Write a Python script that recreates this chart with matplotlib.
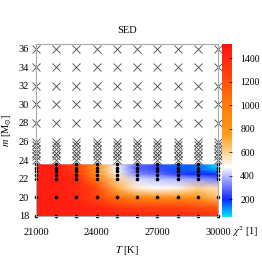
import numpy as np
import matplotlib
matplotlib.use("Agg")
import matplotlib.pyplot as plt
from matplotlib.colors import LinearSegmentedColormap

# effective temperature grid [K] and mass rows of the chi^2 map
temps = [21000, 22000, 23000, 24000, 25000, 26000, 27000, 28000, 29000, 30000]
mass_rows = [18, 19, 20, 21, 22, 22.5, 23, 23.5]
chi2 = [
    [1450, 1450, 1450, 1450, 1450, 1450, 1400, 1400, 1400, 1350],
    [1450, 1450, 1450, 1400, 1300, 1250, 1250, 1250, 1200, 1150],
    [1450, 1450, 1400, 1250, 1050, 900, 850, 850, 800, 650],
    [1450, 1450, 1400, 1250, 700, 520, 480, 500, 600, 550],
    [1450, 1450, 1400, 1000, 600, 430, 400, 380, 350, 300],
    [1450, 1450, 1350, 850, 520, 330, 300, 230, 200, 200],
    [1450, 1450, 1300, 800, 480, 280, 250, 170, 150, 100],
    [1450, 1450, 1300, 800, 450, 280, 250, 150, 150, 50],
]

# models that were fitted (dots) and not computed (crosses)
mass_fit = [18, 20, 22, 22.4, 22.8, 23.2, 23.6]
mass_nofit = [24.0, 24.4, 24.8, 25.2, 25.6, 26.0, 28, 30, 32, 34, 36]

plt.rcParams['font.family'] = ['Liberation Serif', 'DejaVu Serif']
plt.rcParams['mathtext.fontset'] = 'stix'
plt.rcParams['font.size'] = 7.5

cmap = LinearSegmentedColormap.from_list("chi", [
    (0.0, "#00e8ff"),
    (0.10, "#1028ff"),
    (0.20, "#8c94ff"),
    (0.29, "#ffffff"),
    (0.36, "#ffd8a0"),
    (0.48, "#ff9a18"),
    (0.65, "#ff7c08"),
    (0.80, "#ff4a10"),
    (1.0, "#ff1010"),
])

fig = plt.figure(figsize=(2.62, 2.62), dpi=100)
ax = fig.add_axes([0.137, 0.176, 0.695, 0.656])
cax = fig.add_axes([0.847, 0.172, 0.038, 0.66])

TT, MM = np.meshgrid(temps, mass_rows)
mesh = ax.pcolormesh(TT, MM, np.array(chi2), cmap=cmap, vmin=50, vmax=1520,
                     shading='gouraud')

for t in temps:
    ax.plot([t] * len(mass_nofit), mass_nofit, 'x', color='#444444', ms=6,
            mew=0.6, clip_on=False)
    ax.plot([t] * len(mass_fit), mass_fit, 'o', color='black', ms=1.6,
            clip_on=False)

ax.set_xlim(21000, 30000)
ax.set_ylim(18, 36.5)
ax.set_xticks([21000, 24000, 27000, 30000])
ax.set_yticks(range(18, 37, 2))
for s in ax.spines.values():
    s.set_color('#aaaaaa')
    s.set_linewidth(0.8)
ax.tick_params(length=0)
ax.tick_params(axis='x', pad=9)
ax.tick_params(axis='y', pad=5)
ax.set_title('SED', fontsize=7.5, pad=8)
ax.set_xlabel(r'$T$ [K]', labelpad=5)
ax.set_ylabel(r'$m$ [M$_{\odot}$]', labelpad=3)

cb = fig.colorbar(mesh, cax=cax, ticks=[200, 400, 600, 800, 1000, 1200, 1400])
cb.outline.set_visible(False)
cax.tick_params(length=2, width=0.5, direction='in', pad=6, labelsize=7)
fig.text(0.935, 0.118, r'$\chi^2$ [1]', ha='center', va='center')

fig.savefig("out.png", dpi=100)
